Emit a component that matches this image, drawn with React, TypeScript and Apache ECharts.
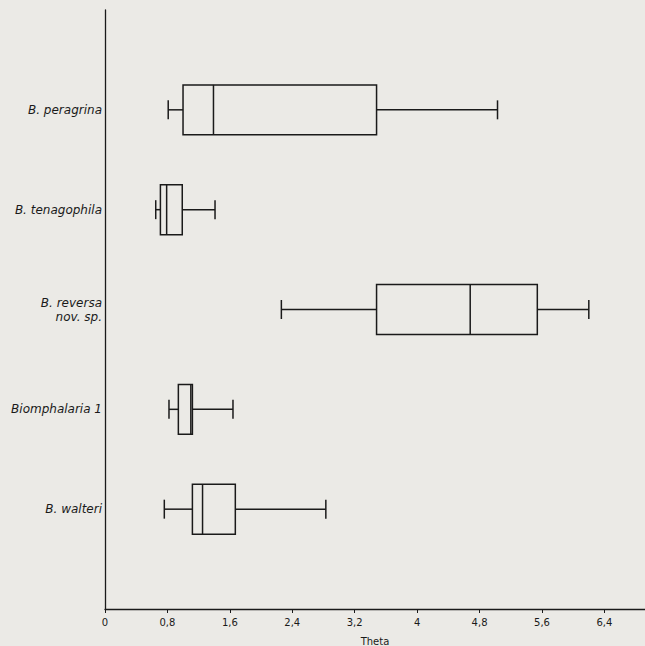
import React, { useEffect, useRef } from "react";
import * as echarts from "echarts";

const categories = ["", "B. peragrina", "B. tenagophila", "B. reversa\nnov. sp.", "Biomphalaria 1", "B. walteri", ""];
// [category index, min, Q1, median, Q3, max]
const peragrina = [1, 0.81, 1.0, 1.39, 3.48, 5.03];
const tenagophila = [2, 0.65, 0.71, 0.79, 0.99, 1.41];
const reversa = [3, 2.26, 3.48, 4.68, 5.54, 6.2];
const biomphalaria1 = [4, 0.82, 0.94, 1.1, 1.12, 1.64];
const walteri = [5, 0.76, 1.12, 1.25, 1.67, 2.83];
const xTickInterval = 0.8;
const xMax = 6.92;

const INK = "#1a1a1a";

export default function App() {
  const ref = useRef<HTMLDivElement>(null);
  useEffect(() => {
    const chart = echarts.init(ref.current!, null, { renderer: "svg" });
    chart.setOption({
      animation: false,
      backgroundColor: "#ebeae6",
      grid: { left: 105, top: 10, width: 540, height: 599, outerBoundsMode: "none", containLabel: false },
      xAxis: {
        type: "value",
        min: 0,
        max: xMax,
        interval: xTickInterval,
        name: "Theta",
        nameLocation: "middle",
        nameGap: 27,
        nameTextStyle: { fontFamily: "DejaVu Sans", fontSize: 10, color: INK },
        axisLine: { show: true, lineStyle: { color: INK, width: 1.3 } },
        axisTick: { show: true, length: 4, lineStyle: { color: INK, width: 1 } },
        splitLine: { show: false },
        axisLabel: {
          showMaxLabel: false,
          margin: 8,
          fontFamily: "DejaVu Sans",
          fontSize: 10,
          color: INK,
          formatter: (v: number) => (Math.round(v * 10) / 10).toString().replace(".", ","),
        },
      },
      yAxis: {
        type: "category",
        data: categories,
        inverse: true,
        boundaryGap: false,
        axisLine: { show: true, lineStyle: { color: INK, width: 1.3 } },
        axisTick: { show: false },
        splitLine: { show: false },
        axisLabel: {
          margin: 3,
          interval: 0,
          fontFamily: "DejaVu Sans",
          fontStyle: "italic",
          fontSize: 12,
          lineHeight: 14,
          color: INK,
          align: "right",
        },
      },
      series: [
        {
          type: "custom",
          clip: false,
          encode: { x: [1, 2, 3, 4, 5], y: 0 },
          data: [peragrina, tenagophila, reversa, biomphalaria1, walteri],
          renderItem: (params: any, api: any) => {
            const c = api.value(0);
            const pMin = api.coord([api.value(1), c]);
            const pQ1 = api.coord([api.value(2), c]);
            const pMed = api.coord([api.value(3), c]);
            const pQ3 = api.coord([api.value(4), c]);
            const pMax = api.coord([api.value(5), c]);
            const band = api.size([0, 1])[1];
            const half = band * 0.25;
            const cap = band * 0.095;
            const cy = pMed[1];
            const st = { stroke: INK, lineWidth: 1.5, fill: "none" };
            return {
              type: "group",
              children: [
                { type: "rect", shape: { x: pQ1[0], y: cy - half, width: pQ3[0] - pQ1[0], height: half * 2 }, style: st },
                { type: "line", shape: { x1: pMed[0], y1: cy - half, x2: pMed[0], y2: cy + half }, style: st },
                { type: "line", shape: { x1: pMin[0], y1: cy, x2: pQ1[0], y2: cy }, style: st },
                { type: "line", shape: { x1: pQ3[0], y1: cy, x2: pMax[0], y2: cy }, style: st },
                { type: "line", shape: { x1: pMin[0], y1: cy - cap, x2: pMin[0], y2: cy + cap }, style: st },
                { type: "line", shape: { x1: pMax[0], y1: cy - cap, x2: pMax[0], y2: cy + cap }, style: st },
              ],
            };
          },
        },
      ],
    });
    return () => chart.dispose();
  }, []);
  return (
    <div
      ref={ref}
      style={{ position: "fixed", left: 0, top: 0, width: 645, height: 646 }}
    />
  );
}
